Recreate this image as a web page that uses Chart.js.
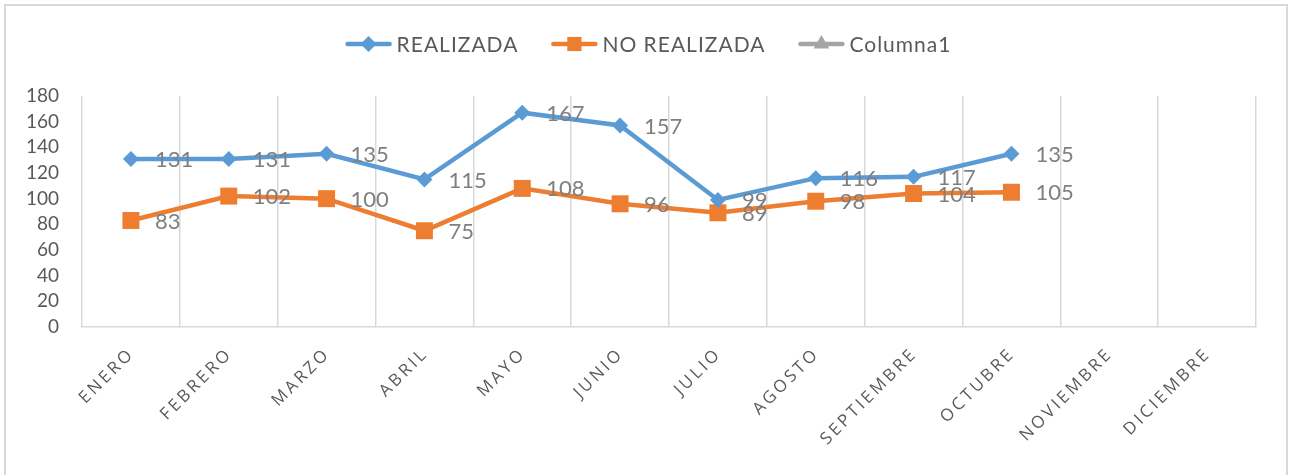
<!DOCTYPE html>
<html>
<head>
<meta charset="utf-8">
<script src="https://cdn.jsdelivr.net/npm/chart.js@4.4.1/dist/chart.umd.min.js"></script>
<style>
  html, body { margin: 0; padding: 0; background: #fff; overflow: hidden; }
  #frame { position: absolute; left: 4px; top: 4px; width: 1280px; height: 480px; border: 2px solid #d9d9d9; }
  #myChart { position: absolute; left: 0; top: 0; }
</style>
</head>
<body>
<div id="frame"></div>
<canvas id="myChart" width="1292" height="475"></canvas>
<script>
const meses = ['ENERO', 'FEBRERO', 'MARZO', 'ABRIL', 'MAYO', 'JUNIO', 'JULIO', 'AGOSTO', 'SEPTIEMBRE', 'OCTUBRE', 'NOVIEMBRE', 'DICIEMBRE'];
const realizada = [131, 131, 135, 115, 167, 157, 99, 116, 117, 135, null, null];
const noRealizada = [83, 102, 100, 75, 108, 96, 89, 98, 104, 105, null, null];
const columna1 = [null, null, null, null, null, null, null, null, null, null, null, null];
const yMin = 0;
const yMax = 180;
const yStep = 20;

// value labels to the right of each point
const valueLabels = {
  id: 'valueLabels',
  afterDatasetsDraw(chart) {
    const ctx = chart.ctx;
    ctx.save();
    ctx.font = '22px Lato';
    ctx.fillStyle = '#7f7f7f';
    ctx.textAlign = 'left';
    ctx.textBaseline = 'middle';
    chart.data.datasets.forEach((ds, i) => {
      const meta = chart.getDatasetMeta(i);
      meta.data.forEach((pt, j) => {
        const v = ds.data[j];
        if (v == null) return;
        ctx.fillText(String(v), pt.x + 24, pt.y + 1);
      });
    });
    ctx.restore();
  }
};

// rotated, letter-spaced month names
const xLabels = {
  id: 'xLabels',
  afterDraw(chart) {
    const sx = chart.scales.x;
    const ctx = chart.ctx;
    ctx.save();
    ctx.font = '17px "Open Sans"';
    ctx.letterSpacing = '3px';
    ctx.fillStyle = '#595959';
    ctx.textAlign = 'right';
    ctx.textBaseline = 'middle';
    meses.forEach((m, i) => {
      const x = sx.getPixelForValue(i);
      ctx.save();
      ctx.translate(x + 1, sx.top + 24);
      ctx.rotate(-Math.PI / 4);
      ctx.fillText(m, 0, 0);
      ctx.restore();
    });
    ctx.restore();
  }
};

// excel style legend: line with marker in the middle
const legendLines = {
  id: 'legendLines',
  afterDraw(chart) {
    const ctx = chart.ctx;
    ctx.save();
    ctx.font = '21px Lato';
    ctx.letterSpacing = '1px';
    const lineW = 46, gap = 5, itemGap = 33;
    const items = chart.data.datasets.map(ds => ({ ds, w: ctx.measureText(ds.label).width }));
    const total = items.reduce((s, it) => s + lineW + gap + it.w, 0) + itemGap * (items.length - 1);
    let x = 648.5 - total / 2;
    const y = 44;
    items.forEach(it => {
      const ds = it.ds;
      ctx.strokeStyle = ds.borderColor;
      ctx.lineWidth = 4.5;
      ctx.lineCap = 'round';
      ctx.beginPath();
      ctx.moveTo(x + 2, y);
      ctx.lineTo(x + lineW - 2, y);
      ctx.stroke();
      ctx.fillStyle = ds.backgroundColor;
      Chart.helpers.drawPoint(ctx, { pointStyle: ds.pointStyle, radius: ds.legendRadius, rotation: 0, borderWidth: 0 }, x + lineW / 2, y);
      ctx.fillStyle = '#595959';
      ctx.textAlign = 'left';
      ctx.textBaseline = 'middle';
      ctx.fillText(ds.label, x + lineW + gap, y + 1);
      x += lineW + gap + it.w + itemGap;
    });
    ctx.restore();
  }
};

const ctx = document.getElementById('myChart').getContext('2d');
const chart = new Chart(ctx, {
  type: 'line',
  data: {
    labels: meses,
    datasets: [{
      label: 'REALIZADA',
      data: realizada,
      borderColor: '#5B9BD5',
      backgroundColor: '#5B9BD5',
      borderWidth: 4.5,
      pointStyle: 'rectRot',
      pointRadius: 8,
      legendRadius: 8,
      pointBorderWidth: 0,
      tension: 0
    }, {
      label: 'NO REALIZADA',
      data: noRealizada,
      borderColor: '#ED7D31',
      backgroundColor: '#ED7D31',
      borderWidth: 4.5,
      pointStyle: 'rect',
      pointRadius: 12,
      legendRadius: 10,
      pointBorderWidth: 0,
      tension: 0
    }, {
      label: 'Columna1',
      data: columna1,
      borderColor: '#A5A5A5',
      backgroundColor: '#A5A5A5',
      borderWidth: 4.5,
      pointStyle: 'triangle',
      pointRadius: 8,
      legendRadius: 9,
      pointBorderWidth: 0,
      tension: 0
    }]
  },
  options: {
    responsive: false,
    animation: false,
    layout: { padding: { top: 96, left: 0, right: 36, bottom: 0 } },
    plugins: {
      legend: { display: false },
      tooltip: { enabled: false }
    },
    scales: {
      x: {
        offset: true,
        grid: { display: true, offset: true, color: '#d9d9d9', lineWidth: 1.5, drawTicks: false },
        border: { display: true, color: '#d9d9d9', width: 1.5 },
        ticks: { display: false },
        afterFit(scale) { scale.height = 148; }
      },
      y: {
        min: yMin,
        max: yMax,
        grid: { display: false, drawTicks: false },
        border: { display: false },
        ticks: {
          stepSize: yStep,
          autoSkip: false,
          padding: 23,
          color: '#595959',
          font: { family: 'Lato', size: 19 }
        },
        afterFit(scale) { scale.width = 82; }
      }
    }
  },
  plugins: [valueLabels, xLabels, legendLines]
});
</script>
</body>
</html>
